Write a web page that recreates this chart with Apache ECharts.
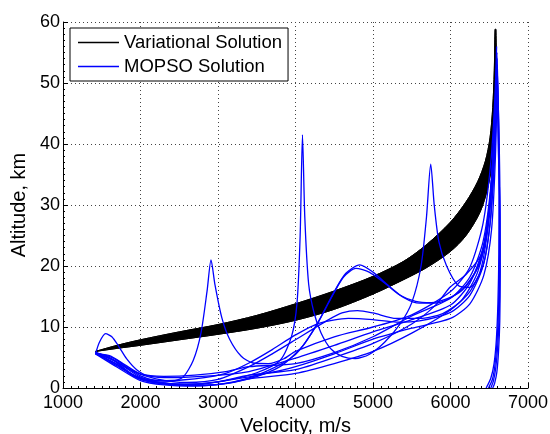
<!DOCTYPE html>
<html>
<head>
<meta charset="utf-8">
<script src="https://cdn.jsdelivr.net/npm/echarts@6/dist/echarts.min.js"></script>
<style>html,body{margin:0;padding:0;background:#fff}#c{width:550px;height:434px}</style>
</head>
<body>
<div id="c"></div>
<script>
// Variational solution band: upper and lower envelopes [velocity m/s, altitude km]
var variationalUpper = [[1420,6.0],[1700,7.0],[2000,7.9],[2500,9.2],[3000,10.4],[3500,11.9],[4000,13.8],[4500,15.9],[5000,18.3],[5400,20.8],[5700,23.6],[6000,27.2],[6200,30.5],[6350,33.8],[6450,37.2],[6510,41],[6545,46],[6565,52],[6575,58.8]];
var variationalLower = [[1420,6.0],[1700,6.5],[2000,7.0],[2500,7.9],[3000,8.8],[3500,9.8],[4000,11.1],[4500,12.9],[5000,15.4],[5400,17.8],[5700,19.8],[6000,22.4],[6200,25.0],[6380,28.8],[6480,32.8],[6545,37.5],[6580,43],[6592,50],[6586,58.8]];

// MOPSO trajectories [velocity m/s, altitude km]
var mopso1 = [[1420,5.6],[1470,7.5],[1550,8.9],[1630,8.4],[1720,6.8],[1820,4.8],[1950,3.0],[2100,2.0],[2400,1.7],[2800,1.9],[3100,2.2],[3400,2.7],[4000,4.9],[4500,7.0],[5000,9.2],[5500,11.2],[6000,13.6],[6250,17.2],[6420,23],[6510,31],[6560,41],[6590,51]];
var mopso2 = [[1420,5.8],[1600,5.0],[1800,3.5],[2000,2.0],[2200,1.2],[2400,1.1],[2550,1.8],[2680,4.5],[2780,9],[2860,16],[2910,21],[2960,17],[3050,11.5],[3150,8.0],[3300,5.2],[3450,4.1],[3650,4.0],[3850,4.8],[4000,6.0],[4500,8.4],[5000,10.0],[5500,12],[6000,15.8],[6250,19.8],[6420,27],[6520,37],[6570,47],[6595,56]];
var mopso3 = [[1420,5.8],[1700,4.2],[2000,1.8],[2300,0.8],[2700,0.6],[3100,1.2],[3500,2.5],[3800,4.5],[3950,8.5],[4020,14],[4060,25],[4090,41.5],[4120,28],[4170,17],[4240,12.3],[4330,9],[4450,6.5],[4600,5.2],[4770,4.8],[4950,5.5],[5150,7.5],[5350,10.5],[5500,14],[5620,20],[5690,28],[5745,36.7],[5790,30],[5850,24],[5950,20],[6100,16.8],[6250,16.5],[6380,19],[6470,25],[6530,34],[6570,44],[6600,54]];
var mopso4 = [[1420,5.8],[1650,4.6],[1900,2.2],[2200,1.0],[2600,0.5],[3000,0.6],[3400,1.5],[3800,3.5],[4100,7],[4300,11],[4500,15.8],[4650,18.8],[4830,20.2],[5000,19.0],[5200,16.8],[5400,14.8],[5600,13.9],[5800,13.9],[6000,14.8],[6200,16.8],[6380,20.5],[6480,26],[6540,34],[6580,44],[6600,55],[6618,44],[6626,32],[6624,22],[6612,14],[6592,8],[6562,4],[6520,1.6],[6460,0]];
var mopso5 = [[1420,5.8],[1700,3.8],[2000,1.5],[2400,0.5],[2800,0.4],[3200,1.0],[3600,2.6],[4000,5.5],[4250,9.8],[4450,14.5],[4620,18.2],[4780,19.6],[4950,19.0],[5150,17.2],[5350,15.2],[5550,14.2],[5750,14.0],[5950,14.6],[6150,16.0],[6330,19.2],[6450,24.5],[6520,32],[6570,42],[6598,52]];
var mopso6 = [[1420,5.8],[1650,4.9],[1900,2.8],[2200,1.5],[2600,0.9],[3000,1.4],[3400,3.5],[3700,5.6],[4000,7.9],[4400,11.0],[4600,12.3],[4800,12.7],[5000,12.3],[5300,11.4],[5600,11.4],[5900,12.2],[6150,14.5],[6350,19],[6470,26],[6540,36],[6580,46],[6600,53],[6622,43],[6632,31],[6630,21],[6620,13],[6600,7.5],[6572,3.6],[6540,1.4],[6490,0]];
var mopso7 = [[1420,5.8],[1700,3.6],[2000,1.6],[2300,1.2],[2700,1.5],[3100,2.4],[3400,4.1],[3700,6.3],[4000,8.7],[4300,10.6],[4680,11.4],[5000,11.2],[5300,10.8],[5600,11.0],[6000,12.4],[6250,15.2],[6420,20],[6510,27],[6565,38],[6598,50]];
var mopso8 = [[1420,5.6],[1600,5.3],[1800,3.8],[2000,2.3],[2300,1.9],[2700,2.1],[3100,2.7],[3400,3.5],[4000,4.0],[4500,5.8],[5000,8.4],[5500,11.8],[6000,14.7],[6250,18.2],[6420,24],[6520,33],[6570,43],[6595,53]];
var mopso9 = [[1420,5.6],[1650,4.6],[1900,2.0],[2200,1.0],[2600,0.6],[3000,1.0],[3400,2.1],[4000,3.0],[4500,5.0],[5000,7.3],[5500,10.5],[5800,13.5],[6000,16.6],[6200,18.6],[6400,22],[6510,30],[6570,42],[6600,52],[6625,42],[6638,30],[6636,20],[6628,12],[6610,7],[6585,3.4],[6555,1.2],[6520,0]];
var mopso10 = [[1420,5.6],[1700,3.4],[2000,1.2],[2300,0.5],[2700,0.3],[3100,0.7],[3400,1.5],[4000,2.4],[4500,4.0],[5000,6.0],[5500,9.0],[6000,12.8],[6250,15.8],[6430,20.5],[6520,28],[6570,38],[6600,48],[6615,40],[6640,28],[6642,19],[6636,11],[6620,6],[6598,2.6],[6570,0.8],[6545,0]];
var mopso11 = [[1420,5.6],[1700,3.9],[2000,1.4],[2400,0.6],[2800,0.7],[3200,1.4],[3600,2.3],[4000,3.5],[4500,5.6],[5000,8.0],[5500,9.8],[6000,11.4],[6250,13.8],[6430,18.5],[6530,26],[6580,38],[6600,49]];
var mopsoSeries = [mopso1, mopso2, mopso3, mopso4, mopso5, mopso6, mopso7, mopso8, mopso9, mopso10, mopso11];

var FONT = '"Liberation Sans", Arial, Helvetica, sans-serif';
var chart = echarts.init(document.getElementById('c'), null, {renderer: 'canvas'});

var series = [];
series.push({
  name: 'Variational Solution', type: 'line', data: variationalUpper, symbol: 'none',
  smooth: 0.3, lineStyle: {color: '#000', width: 1}, itemStyle: {color: '#000'}, z: 2
});
series.push({
  name: 'Variational Solution', type: 'line', data: variationalLower, symbol: 'none',
  smooth: 0.3, lineStyle: {color: '#000', width: 1}, itemStyle: {color: '#000'}, z: 2
});
series.push({
  name: 'Variational Solution', type: 'custom', z: 2,
  itemStyle: {color: '#000'},
  data: [0],
  renderItem: function (params, api) {
    var pts = [];
    for (var i = 0; i < variationalUpper.length; i++) pts.push(api.coord(variationalUpper[i]));
    for (var j = variationalLower.length - 1; j >= 0; j--) pts.push(api.coord(variationalLower[j]));
    return {type: 'polygon', shape: {points: pts, smooth: 0.3}, style: {fill: '#000', stroke: '#000', lineWidth: 1}};
  },
  clip: true
});
mopsoSeries.forEach(function (d) {
  series.push({
    name: 'MOPSO Solution', type: 'line', data: d, symbol: 'none', smooth: 0.25,
    lineStyle: {color: '#0000ff', width: 1.3}, itemStyle: {color: '#0000ff'}, z: 3, clip: true
  });
});

chart.setOption({
  animation: false,
  backgroundColor: '#fff',
  grid: {left: 63, right: 22, top: 22, bottom: 46, containLabel: false, outerBoundsMode: 'none'},
  legend: {
    data: [
      {name: 'Variational Solution', icon: 'rect', itemStyle: {color: '#000'}},
      {name: 'MOPSO Solution', icon: 'rect', itemStyle: {color: '#0000ff'}}
    ],
    orient: 'vertical', left: 70, top: 28,
    padding: [5, 6, 5, 8], itemGap: 5, itemWidth: 41, itemHeight: 1.5,
    backgroundColor: '#fff', borderColor: '#000', borderWidth: 1,
    textStyle: {fontFamily: FONT, fontSize: 18.5, color: '#000', lineHeight: 17},
    selectedMode: false, z: 10
  },
  xAxis: {
    type: 'value', min: 1000, max: 7000, interval: 1000,
    name: 'Velocity, m/s', nameLocation: 'middle', nameGap: 21,
    nameTextStyle: {fontFamily: FONT, fontSize: 20, color: '#000'},
    axisLine: {show: true, lineStyle: {color: '#000', width: 1}},
    axisTick: {show: true, inside: true, length: 5, lineStyle: {color: '#000'}},
    minorTick: {show: true, splitNumber: 10, length: 2, lineStyle: {color: '#000'}},
    axisLabel: {fontFamily: FONT, fontSize: 18, color: '#000', margin: 6,
      formatter: function (v) { return String(v); }},
    splitLine: {show: true, lineStyle: {color: '#444', width: 1, type: [1, 3]}}
  },
  yAxis: {
    type: 'value', min: 0, max: 60, interval: 10,
    name: 'Altitude, km', nameLocation: 'middle', nameGap: 31,
    nameTextStyle: {fontFamily: FONT, fontSize: 20, color: '#000'},
    axisLine: {show: true, lineStyle: {color: '#000', width: 1}},
    axisTick: {show: true, inside: true, length: 5, lineStyle: {color: '#000'}},
    minorTick: {show: true, splitNumber: 10, length: 2, lineStyle: {color: '#000'}},
    axisLabel: {fontFamily: FONT, fontSize: 18, color: '#000', margin: 3},
    splitLine: {show: true, lineStyle: {color: '#444', width: 1, type: [1, 3]}}
  },
  series: series
});
</script>
</body>
</html>
